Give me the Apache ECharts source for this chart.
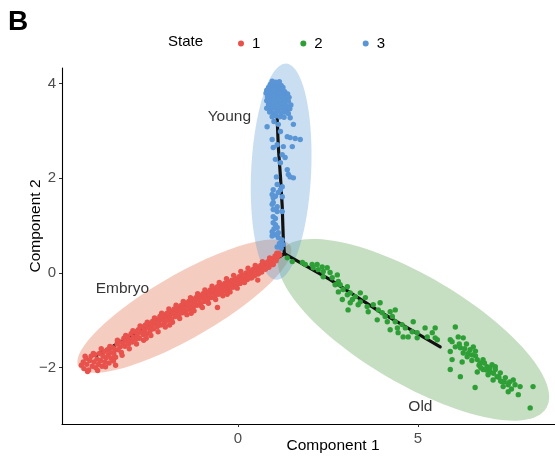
<!DOCTYPE html>
<html><head><meta charset="utf-8">
<script src="https://cdn.jsdelivr.net/npm/echarts@6/dist/echarts.min.js"></script>
<style>html,body{margin:0;padding:0;background:#fff}#c{width:555px;height:459px}</style>
</head><body><div id="c"></div>
<script>
// ---------- data ----------
const stateNames = ['1', '2', '3'];
const xTicks = [0, 5];
const yTicks = [-2, 0, 2, 4];

// State 1 (Embryo) cells: [Component 1, Component 2]
const state1 = [
[-4.35,-1.95],[-4.3,-1.88],[-4.28,-2.02],[-4.22,-1.8],[-4.2,-1.93],[-4.15,-2.05],[-4.12,-1.85],[-4.08,-1.76],[-4.05,-1.97],[-4.0,-1.88],
[-3.98,-1.72],[-3.95,-2.0],[-3.92,-1.82],[-3.88,-1.93],[-3.85,-1.7],[-3.82,-1.85],[-3.78,-1.97],[-3.75,-1.76],[-3.72,-1.66],[-3.7,-1.88],
[-3.66,-1.79],[-3.63,-1.62],[-3.6,-1.72],[-3.58,-1.9],[-3.55,-1.68],[-3.52,-1.8],[-3.48,-1.58],[-3.45,-1.7],[-3.42,-1.62],[-3.4,-1.78],
[-3.36,-1.5],[-3.33,-1.62],[-3.3,-1.45],[-3.27,-1.56],[-3.24,-1.68],[-3.2,-1.48],[-3.17,-1.38],[-3.14,-1.55],[-3.1,-1.44],[-3.07,-1.34],
[-3.04,-1.5],[-3.0,-1.4],[-2.97,-1.28],[-2.94,-1.46],[-2.9,-1.36],[-2.87,-1.24],[-2.84,-1.4],[-2.8,-1.3],[-2.77,-1.2],[-2.74,-1.38],
[-2.7,-1.25],[-2.67,-1.14],[-2.64,-1.3],[-2.6,-1.2],[-2.57,-1.1],[-2.54,-1.28],[-2.5,-1.16],[-2.47,-1.06],[-2.44,-1.22],[-2.4,-1.12],
[-2.37,-1.02],[-2.34,-1.18],[-2.3,-1.07],[-2.27,-0.98],[-2.24,-1.13],[-2.2,-1.02],[-2.17,-0.92],[-2.14,-1.1],[-2.1,-0.98],[-2.07,-0.88],
[-2.04,-1.05],[-2.0,-0.95],[-1.97,-0.85],[-1.94,-1.0],[-1.9,-0.9],[-1.87,-0.8],[-1.84,-0.97],[-1.8,-0.86],[-1.77,-0.76],[-1.74,-0.92],
[-1.7,-0.82],[-1.67,-0.72],[-1.64,-0.88],[-1.6,-0.78],[-1.57,-0.68],[-1.54,-0.84],[-1.5,-0.74],[-1.47,-0.64],[-1.44,-0.8],[-1.4,-0.7],
[-1.37,-0.6],[-1.34,-0.76],[-1.3,-0.66],[-1.27,-0.56],[-1.24,-0.72],[-1.2,-0.62],[-1.17,-0.52],[-1.14,-0.68],[-1.1,-0.57],[-1.07,-0.48],
[-1.04,-0.64],[-1.0,-0.53],[-0.97,-0.44],[-0.94,-0.6],[-0.9,-0.5],[-0.87,-0.4],[-0.84,-0.56],[-0.8,-0.46],[-0.77,-0.36],[-0.74,-0.52],
[-0.7,-0.42],[-0.67,-0.33],[-0.64,-0.48],[-0.6,-0.38],[-0.57,-0.29],[-0.54,-0.45],[-0.5,-0.35],[-0.47,-0.26],[-0.44,-0.41],[-0.4,-0.31],
[-0.37,-0.22],[-0.34,-0.37],[-0.3,-0.28],[-0.27,-0.19],[-0.24,-0.34],[-0.2,-0.24],[-0.17,-0.15],[-0.14,-0.3],[-0.1,-0.2],[-0.07,-0.12],
[-0.04,-0.26],[0.0,-0.16],[0.03,-0.08],[0.06,-0.22],[0.1,-0.12],[0.13,-0.04],[0.16,-0.18],[0.2,-0.08],[0.23,0.0],[0.26,-0.14],
[0.3,-0.04],[0.33,0.04],[0.36,-0.1],[0.4,0.0],[0.43,0.08],[0.46,-0.06],[0.5,0.04],[0.53,0.12],[0.56,-0.02],[0.6,0.08],
[0.63,0.16],[0.66,0.02],[0.7,0.12],[0.73,0.2],[0.76,0.08],[0.8,0.16],[0.83,0.24],[0.86,0.12],[0.9,0.22],[0.93,0.3],
[0.96,0.18],[1.0,0.28],[1.03,0.36],[1.06,0.26],[1.1,0.34],[1.13,0.42],[1.16,0.38],
[-0.99,-0.73],[-0.57,-0.73],[-1.3,-0.85],[-3.4,-1.95],[-2.55,-1.38],[0.55,-0.15],[-1.9,-1.1],[-0.3,-0.45],
[-4.25,-1.76],[-4.18,-2.08],[-4.02,-1.7],[-3.9,-2.06],[-3.8,-1.6],[-3.68,-1.98],[-3.56,-1.55],[-3.46,-1.86],[-3.35,-1.42],[-3.22,-1.74],
[-3.12,-1.32],[-3.02,-1.6],[-2.92,-1.22],[-2.82,-1.5],[-2.72,-1.12],[-2.62,-1.42],[-2.52,-1.04],[-2.42,-1.32],[-2.32,-0.95],[-2.22,-1.24],
[-2.12,-0.85],[-2.02,-1.14],[-1.92,-0.76],[-1.82,-1.04],[-1.72,-0.68],[-1.62,-0.96],[-1.52,-0.6],[-1.42,-0.88],[-1.32,-0.52],[-1.22,-0.8],
[-1.12,-0.44],[-1.02,-0.7],[-0.92,-0.36],[-0.82,-0.64],[-0.72,-0.28],[-0.62,-0.56],[-0.52,-0.2],[-0.42,-0.48],[-0.32,-0.12],[-0.22,-0.4],
[-0.12,-0.05],[-0.02,-0.32],[0.08,0.03],[0.18,-0.2],[0.28,0.1],[0.38,-0.1],[0.48,0.16],[0.58,0.0],[0.68,0.24],[0.78,0.1],
[0.88,0.32],[0.98,0.18],[1.08,0.42]
];

// State 2 (Old) cells
const state2 = [
[1.37,0.32],[1.51,0.24],[1.79,0.22],[1.87,0.18],[2.06,0.18],[2.09,0.11],[2.2,0.18],[2.23,0.07],[2.34,0.13],[2.37,0.03],
[2.37,-0.08],[2.48,0.11],[2.56,0.01],[2.62,-0.1],[2.76,-0.04],[2.79,-0.18],[2.7,-0.25],[2.84,-0.25],[2.79,-0.4],[2.92,-0.35],
[3.04,-0.29],[3.04,-0.46],[2.9,-0.56],[3.12,-0.42],[3.18,-0.56],[3.12,-0.63],[3.06,-0.78],[3.26,-0.5],[3.4,-0.42],[3.4,-0.61],
[3.34,-0.67],[3.54,-0.52],[3.59,-0.71],[3.62,-0.82],[3.76,-0.67],[3.9,-0.78],[3.95,-0.63],[4.01,-0.84],[3.87,-0.99],[4.09,-0.92],
[4.15,-1.03],[4.23,-0.82],[4.37,-0.78],[4.29,-0.92],[4.37,-1.03],[4.23,-1.2],[4.43,-1.16],[4.45,-1.26],[4.56,-1.09],[4.65,-1.16],
[4.59,-1.35],[4.73,-1.35],[4.87,-1.03],[4.84,-1.24],[4.98,-1.26],[4.98,-1.37],[5.2,-1.16],[5.26,-1.35],[5.4,-1.26],[5.48,-1.16],
[5.54,-1.41],
[5.48,-1.37],[6.04,-1.14],[6.12,-1.35],[6.26,-1.37],[5.9,-1.41],[5.95,-1.45],[6.04,-1.56],[5.9,-1.66],[6.18,-1.58],[6.26,-1.69],
[6.45,-1.62],[6.37,-1.77],[6.51,-1.73],[6.54,-1.56],[6.65,-1.83],[5.95,-1.83],[6.23,-1.88],[6.73,-1.9],[6.81,-1.83],[6.92,-1.98],
[7.06,-1.94],[6.81,-2.04],[7.01,-2.09],[7.15,-2.04],[7.2,-2.19],[7.29,-2.11],[7.09,-2.26],[7.34,-2.3],[7.43,-2.21],[7.51,-2.36],
[7.37,-2.4],[7.65,-2.26],[7.7,-2.36],[7.51,-2.51],[5.9,-2.04],[6.18,-2.19],[6.59,-2.42],[7.84,-2.4],[7.79,-2.57],[8.2,-2.4],
[8.12,-2.85],[7.15,-1.98],[6.65,-2.09],[6.95,-2.15],
[6.3,-1.6],[6.4,-1.7],[6.6,-1.75],[6.7,-1.95],[6.85,-1.9],[6.9,-2.05],[7.0,-2.0],[7.1,-2.12],[7.25,-2.2],[7.4,-2.3],
[7.55,-2.3],[6.5,-1.85],[6.15,-1.5],[6.35,-1.5],[7.6,-2.45],[6.75,-2.0],[6.6,-1.65],[7.3,-2.28]
];

// State 3 (Young) cells
const state3 = [
[0.95,4.05],[1.05,4.03],[1.15,4.04],[0.9,3.98],[1.0,3.97],[1.1,3.99],[1.2,3.96],[0.85,3.92],[0.95,3.91],[1.05,3.93],
[1.15,3.9],[1.25,3.92],[0.8,3.86],[0.9,3.85],[1.0,3.87],[1.1,3.84],[1.2,3.86],[1.3,3.83],[0.78,3.8],[0.88,3.78],
[0.98,3.8],[1.08,3.77],[1.18,3.79],[1.28,3.76],[1.38,3.78],[0.82,3.72],[0.92,3.7],[1.02,3.73],[1.12,3.7],[1.22,3.72],
[1.32,3.69],[1.42,3.71],[0.8,3.64],[0.9,3.63],[1.0,3.65],[1.1,3.62],[1.2,3.64],[1.3,3.61],[1.4,3.63],[0.85,3.56],
[0.95,3.55],[1.05,3.57],[1.15,3.54],[1.25,3.56],[1.35,3.53],[1.47,3.55],[0.8,3.48],[0.92,3.47],[1.02,3.49],[1.12,3.46],
[1.22,3.48],[1.32,3.45],[1.44,3.47],[0.88,3.4],[0.98,3.38],[1.08,3.41],[1.2,3.38],[1.3,3.4],[1.4,3.37],[0.95,3.3],
[1.05,3.32],[1.16,3.3],[1.28,3.29],[1.45,3.28],[1.54,3.14],[0.81,3.09],[1.12,3.14],[1.0,3.2],
[1.73,2.82],[1.59,2.84],[1.45,2.86],[1.37,2.88],[1.18,2.99],[0.95,2.82],[1.09,2.71],[1.26,2.67],[1.51,2.67],[0.98,2.65],
[1.23,2.5],[1.31,2.44],[1.04,2.4],[1.18,2.33],[1.37,2.18],[1.4,2.08],[1.45,2.03],[1.54,2.01],[1.07,2.03],[1.09,1.87],
[1.23,1.82],[1.18,1.76],[0.98,1.76],[1.12,1.7],[0.95,1.66],[1.04,1.62],[1.23,1.61],[0.98,1.59],[0.98,1.49],[0.95,1.45],
[1.09,1.4],[1.09,1.3],[0.98,1.34],[1.23,1.3],[0.98,1.19],[1.04,1.15],[0.98,1.06],[1.04,1.02],[1.09,0.96],[0.95,0.87],
[1.04,0.81],[1.12,0.85],[0.95,0.78],[1.12,0.75],[1.23,0.7],[1.18,0.64],[1.26,0.6],[1.09,0.55],[1.2,0.52],[1.0,0.93],[1.15,0.62]
];

// Trajectory branches (principal graph), data units
const branchEmbryo = [[1.29,0.41],[0.9,0.22],[0.0,-0.14],[-1.24,-0.61],[-2.66,-1.2],[-3.95,-1.75]];
const branchYoung  = [[1.29,0.41],[1.26,0.7],[1.23,1.4],[1.18,2.04],[1.12,2.67],[1.09,3.28]];
const branchOld    = [[1.29,0.41],[2.56,-0.14],[3.95,-0.82],[5.62,-1.56]];

// Ellipses: [centerX, centerY, semiMajorX, semiMajorY, semiMinorX, semiMinorY] in data units
const ellipseEmbryo = [-1.49, -0.70, 2.94, 1.28, 0.44, -0.59];
const ellipseYoung  = [1.20, 2.14, 0.139, 2.283, 0.833, -0.03];
const ellipseOld    = [4.88, -1.20, 3.69, -1.65, -0.76, -0.98];

// Region labels
const regionLabels = [[-0.24, 3.30, 'Young'], [-3.21, -0.33, 'Embryo'], [5.07, -2.83, 'Old']];

// ---------- styles ----------
const pointColors = ['#E8524C', '#2E9F36', '#5A95D6'];
const ellipseFills = ['rgba(232,137,106,0.42)', 'rgba(91,155,213,0.33)', 'rgba(70,150,55,0.31)'];
const FONT = 'Liberation Sans, Arial, Helvetica, sans-serif';

const chart = echarts.init(document.getElementById('c'), null, {renderer: 'canvas'});

function ellipseSeries(params, color) {
  return {
    type: 'custom',
    coordinateSystem: 'cartesian2d',
    silent: true,
    z: 1,
    data: [params],
    encode: {x: 0, y: 1},
    renderItem: function (p, api) {
      const cx = api.value(0), cy = api.value(1);
      const ax = api.value(2), ay = api.value(3), bx = api.value(4), by = api.value(5);
      const pts = [];
      for (let k = 0; k < 120; k++) {
        const t = k / 120 * Math.PI * 2;
        pts.push(api.coord([cx + ax * Math.cos(t) + bx * Math.sin(t), cy + ay * Math.cos(t) + by * Math.sin(t)]));
      }
      return {type: 'polygon', shape: {points: pts, smooth: 0}, style: {fill: color, stroke: null}};
    }
  };
}

function branchSeries(d) {
  return {
    type: 'line', data: d, symbol: 'none', z: 2, silent: true,
    lineStyle: {color: '#111', width: 3.2, cap: 'round', join: 'round'}
  };
}

function pointSeries(name, d, color) {
  return {
    name: name, type: 'scatter', data: d, z: 3, symbolSize: 5.4,
    itemStyle: {color: color, opacity: 1}
  };
}

const option = {
  animation: false,
  backgroundColor: '#fff',
  grid: {left: 62, right: 0, top: 68, bottom: 35, outerBoundsMode: 'none', containLabel: false},
  xAxis: {
    type: 'value', min: -4.89, max: 8.81,
    splitLine: {show: false},
    axisLine: {onZero: false, lineStyle: {color: '#000', width: 1.1}},
    axisTick: {show: true, customValues: xTicks, length: 3, lineStyle: {color: '#333'}},
    axisLabel: {customValues: xTicks, color: '#4D4D4D', fontSize: 15, fontFamily: FONT, margin: 7}
  },
  yAxis: {
    type: 'value', min: -3.19, max: 4.33,
    splitLine: {show: false},
    axisLine: {onZero: false, lineStyle: {color: '#000', width: 1.1}},
    axisTick: {show: true, customValues: yTicks, length: 3, lineStyle: {color: '#333'}},
    axisLabel: {customValues: yTicks, color: '#4D4D4D', fontSize: 15, fontFamily: FONT, margin: 6,
      formatter: v => (v < 0 ? '\u2212' + Math.abs(v) : String(v))}
  },
  legend: {
    data: stateNames,
    left: 233, top: 31,
    icon: 'circle', itemWidth: 6, itemHeight: 6, itemGap: 40,
    textStyle: {color: '#000', fontSize: 15, fontFamily: FONT, padding: [0, 0, 0, 3]}
  },
  graphic: [
    {type: 'text', left: 8, top: 8, style: {text: 'B', font: 'bold 28px ' + FONT, fill: '#000'}},
    {type: 'text', left: 168, top: 34, style: {text: 'State', font: '15px ' + FONT, fill: '#000'}},
    {type: 'text', x: 333, y: 446, style: {text: 'Component 1', font: '15.5px ' + FONT, fill: '#000', align: 'center', verticalAlign: 'middle'}},
    {type: 'text', x: 36, y: 226, rotation: Math.PI / 2, style: {text: 'Component 2', font: '15.5px ' + FONT, fill: '#000', align: 'center', verticalAlign: 'middle'}}
  ],
  series: [
    ellipseSeries(ellipseEmbryo, ellipseFills[0]),
    ellipseSeries(ellipseOld, ellipseFills[2]),
    ellipseSeries(ellipseYoung, ellipseFills[1]),
    branchSeries(branchEmbryo),
    branchSeries(branchYoung),
    branchSeries(branchOld),
    pointSeries(stateNames[0], state1, pointColors[0]),
    pointSeries(stateNames[1], state2, pointColors[1]),
    pointSeries(stateNames[2], state3, pointColors[2]),
    {
      type: 'scatter', data: regionLabels, symbolSize: 0, z: 4, silent: true,
      label: {show: true, position: 'inside', formatter: p => p.data[2], color: '#000', fontSize: 15.5, fontFamily: FONT}
    }
  ]
};
chart.setOption(option);
</script>
</body></html>
